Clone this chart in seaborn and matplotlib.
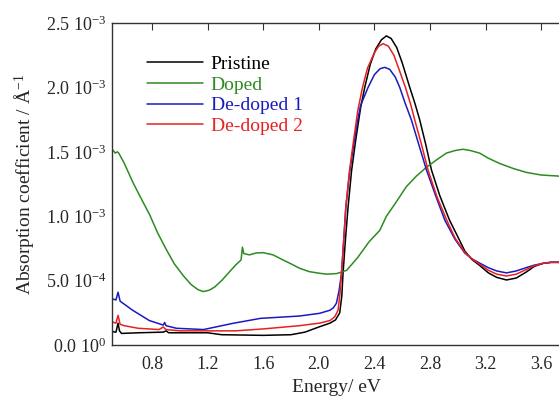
import matplotlib
matplotlib.use("Agg")
import matplotlib.pyplot as plt
import seaborn as sns
import pandas as pd

# Absorption spectra, values in units of 1e-3 / Angstrom
pristine_x = [0.508, 0.54, 0.555, 0.565, 0.58, 0.7, 0.88, 0.9, 0.92, 1.2, 1.3, 1.6, 1.8, 1.9, 2.005, 2.08,
              2.12, 2.15, 2.165, 2.174, 2.19, 2.21, 2.235, 2.265, 2.3, 2.33, 2.37, 2.41, 2.45, 2.486,
              2.52, 2.56, 2.6, 2.654, 2.69, 2.726, 2.77, 2.81, 2.87, 2.94, 3.0, 3.05, 3.1, 3.16, 3.22,
              3.28, 3.35, 3.42, 3.49, 3.55, 3.613, 3.67, 3.75]
pristine_y = [0.105, 0.10, 0.17, 0.11, 0.09, 0.095, 0.10, 0.11, 0.095, 0.095, 0.08, 0.075, 0.08, 0.10, 0.142, 0.17,
              0.195, 0.25, 0.38, 0.557, 0.80, 1.07, 1.35, 1.59, 1.84, 2.0, 2.18, 2.30, 2.37, 2.40,
              2.38, 2.31, 2.19, 2.0, 1.88, 1.747, 1.553, 1.36, 1.16, 0.97, 0.84, 0.73, 0.665, 0.615, 0.56,
              0.525, 0.505, 0.52, 0.565, 0.61, 0.634, 0.642, 0.642]

doped_x = [0.508, 0.52, 0.535, 0.55, 0.56, 0.6, 0.663, 0.72, 0.783, 0.84, 0.903, 0.96, 1.023, 1.08, 1.13,
           1.167, 1.21, 1.25, 1.3, 1.35, 1.4, 1.44, 1.45, 1.46, 1.5, 1.55, 1.6, 1.67, 1.743, 1.8, 1.863,
           1.93, 2.005, 2.06, 2.13, 2.2, 2.28, 2.36, 2.438, 2.486, 2.55, 2.63, 2.7, 2.774, 2.85, 2.918,
           2.98, 3.037, 3.09, 3.157, 3.22, 3.3, 3.4, 3.494, 3.6, 3.75]
doped_y = [1.527, 1.51, 1.49, 1.50, 1.49, 1.41, 1.26, 1.14, 1.01, 0.87, 0.74, 0.63, 0.54, 0.47, 0.43,
           0.415, 0.425, 0.45, 0.50, 0.56, 0.62, 0.66, 0.76, 0.71, 0.70, 0.715, 0.717, 0.70, 0.66, 0.63, 0.595,
           0.57, 0.557, 0.55, 0.555, 0.58, 0.68, 0.80, 0.89, 1.0, 1.10, 1.23, 1.31, 1.38, 1.44, 1.49,
           1.51, 1.52, 1.51, 1.49, 1.45, 1.41, 1.37, 1.34, 1.32, 1.31]

dedoped1_x = [0.508, 0.54, 0.555, 0.57, 0.66, 0.78, 0.88, 0.89, 0.9, 0.975, 1.17, 1.38, 1.58, 1.86, 2.005,
              2.08, 2.105, 2.126, 2.145, 2.163, 2.178, 2.194, 2.22, 2.25, 2.28, 2.3, 2.354, 2.4, 2.44,
              2.474, 2.51, 2.55, 2.582, 2.62, 2.666, 2.72, 2.774, 2.84, 2.906, 2.98, 3.05, 3.1, 3.157,
              3.22, 3.28, 3.35, 3.42, 3.49, 3.55, 3.613, 3.67, 3.75]
dedoped1_y = [0.36, 0.35, 0.41, 0.34, 0.27, 0.19, 0.155, 0.175, 0.15, 0.13, 0.12, 0.168, 0.207, 0.225, 0.246,
              0.27, 0.29, 0.324, 0.42, 0.557, 0.80, 1.07, 1.33, 1.55, 1.75, 1.86, 2.0, 2.10, 2.145,
              2.156, 2.14, 2.08, 2.0, 1.88, 1.747, 1.553, 1.36, 1.16, 0.97, 0.82, 0.714, 0.67, 0.636,
              0.60, 0.575, 0.56, 0.575, 0.60, 0.62, 0.634, 0.642, 0.642]

dedoped2_x = [0.508, 0.54, 0.555, 0.57, 0.6, 0.7, 0.85, 0.88, 0.9, 1.0, 1.4, 1.6, 1.86, 2.005, 2.08,
              2.115, 2.138, 2.152, 2.163, 2.178, 2.194, 2.22, 2.25, 2.28, 2.314, 2.35, 2.4, 2.43, 2.462,
              2.5, 2.54, 2.58, 2.623, 2.66, 2.69, 2.74, 2.785, 2.85, 2.92, 2.98, 3.05, 3.1, 3.16, 3.22,
              3.28, 3.35, 3.42, 3.49, 3.55, 3.613, 3.67, 3.75]
dedoped2_y = [0.18, 0.17, 0.23, 0.16, 0.15, 0.13, 0.12, 0.14, 0.12, 0.11, 0.11, 0.125, 0.15, 0.17, 0.19,
              0.22, 0.27, 0.40, 0.557, 0.80, 1.07, 1.35, 1.59, 1.82, 2.0, 2.15, 2.27, 2.32, 2.34,
              2.32, 2.25, 2.13, 2.0, 1.87, 1.747, 1.55, 1.36, 1.15, 0.97, 0.83, 0.72, 0.67, 0.625, 0.58,
              0.55, 0.536, 0.55, 0.585, 0.615, 0.634, 0.642, 0.642]

labels = ["Pristine", "Doped", "De-doped 1", "De-doped 2"]
colors = ["#000000", "#2e8a22", "#1a1ac0", "#e82020"]

x_ticks = [0.8, 1.2, 1.6, 2.0, 2.4, 2.8, 3.2, 3.6]
y_ticks = [0.0, 0.5, 1.0, 1.5, 2.0, 2.5]
y_ticklabels = ["0.0 10$^{0}$", "5.0 10$^{-4}$", "1.0 10$^{-3}$",
                "1.5 10$^{-3}$", "2.0 10$^{-3}$", "2.5 10$^{-3}$"]

frames = []
for name, xs, ys in zip(labels,
                        [pristine_x, doped_x, dedoped1_x, dedoped2_x],
                        [pristine_y, doped_y, dedoped1_y, dedoped2_y]):
    frames.append(pd.DataFrame({"energy": xs, "absorb": ys, "sample": name}))
df = pd.concat(frames, ignore_index=True)

sns.set_style("white")
plt.rcParams["font.family"] = ["Liberation Serif", "DejaVu Serif"]
plt.rcParams["mathtext.fontset"] = "custom"
plt.rcParams["mathtext.rm"] = "Liberation Serif"
plt.rcParams["mathtext.it"] = "Liberation Serif:italic"

fig = plt.figure(figsize=(5.59, 4.04), dpi=100)
ax = fig.add_axes([0.1995, 0.146, 0.806, 0.797])

sns.lineplot(data=df, x="energy", y="absorb", hue="sample", palette=colors,
             hue_order=labels, ax=ax, linewidth=1.1, sort=False, estimator=None)

ax.set_xlim(0.508, 3.75)
ax.set_ylim(0, 2.5)
ax.set_xticks(x_ticks)
ax.set_xticklabels([f"{t:.1f}" for t in x_ticks], fontsize=13)
ax.set_yticks(y_ticks)
ax.set_yticklabels(y_ticklabels, fontsize=13)
ax.tick_params(axis="x", direction="in", length=5, top=True, color="#333333", pad=8)
ax.tick_params(axis="y", length=0, pad=4)
for s in ["left", "bottom", "top"]:
    ax.spines[s].set_color("#333333")
    ax.spines[s].set_linewidth(1.0)

ax.set_xlabel("Energy/ eV", fontsize=14, labelpad=4)
ax.set_ylabel("Absorption coefficient / Å$^{-1}$", fontsize=14, labelpad=6)

leg = ax.legend(loc="upper left", bbox_to_anchor=(0.039, 0.953), frameon=False,
                fontsize=14, handlelength=2.9, labelspacing=0.15, handletextpad=0.4,
                labelcolor="linecolor")

fig.savefig("out.png", dpi=100)
